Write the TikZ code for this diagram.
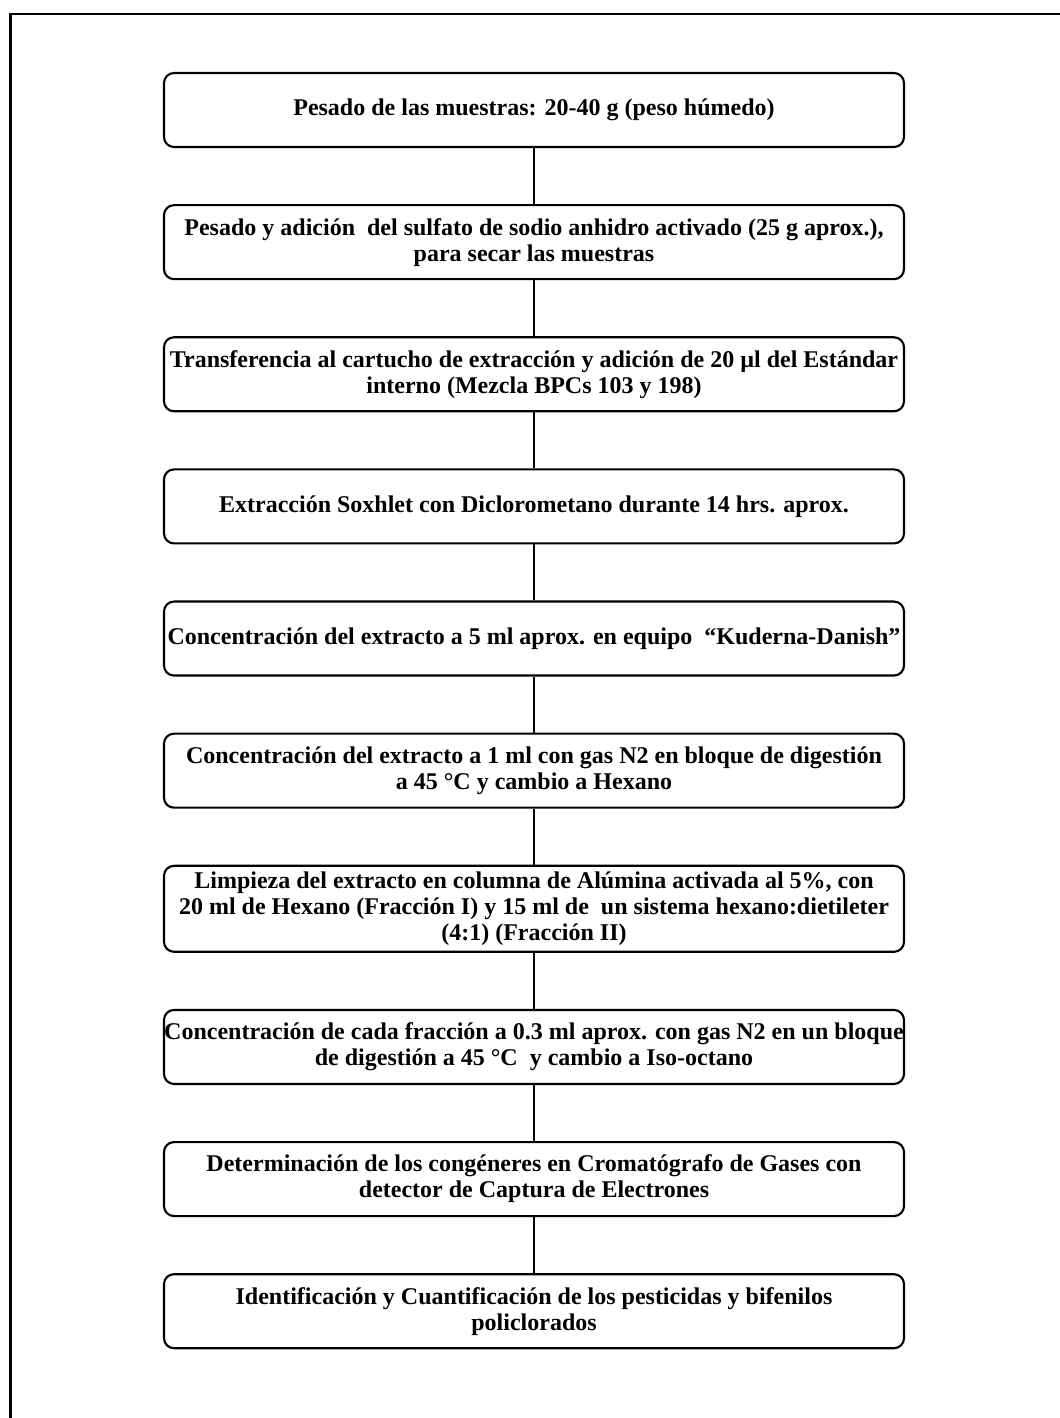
\documentclass[tikz,border=0pt]{standalone}
\usepackage{fontspec}
\setmainfont{Liberation Serif}
\usepackage{tikz}
\usetikzlibrary{positioning}

\begin{document}
\begin{tikzpicture}[
  node distance=42pt,
  box/.style={draw, line width=1.6pt, rounded corners=7.5pt, align=center, minimum width=555pt, minimum height=55.5pt, inner xsep=0pt, inner ysep=3pt, font=\bfseries\fontsize{18}{19.5}\selectfont},
  link/.style={line width=1pt},
  frame/.style={line width=1.8pt}
]
  \useasboundingbox (0,0) rectangle (795pt,-1063.5pt);
  \draw[frame] (8pt,-1063.5pt) -- (8pt,-10.5pt) -- (795pt,-10.5pt);

  \node[box] (pesado) at (400.5pt,-82.5pt) {Pesado de las muestras: 20-40 g (peso húmedo)};
  \node[box, below=of pesado] (secado) {Pesado y adición\ \ del sulfato de sodio anhidro activado (25 g aprox.),\\para secar las muestras};
  \node[box, below=of secado] (transf) {Transferencia al cartucho de extracción y adición de 20 µl del Estándar\\interno (Mezcla BPCs 103 y 198)};
  \node[box, below=of transf] (soxhlet) {Extracción Soxhlet con Diclorometano durante 14 hrs. aprox.};
  \node[box, below=of soxhlet] (kd) {Concentración del extracto a 5 ml aprox. en equipo\ \ “Kuderna-Danish”};
  \node[box, below=of kd] (nitro) {Concentración del extracto a 1 ml con gas N2 en bloque de digestión\\a 45 °C y cambio a Hexano};
  \node[box, below=of nitro, minimum height=64.5pt] (limpieza) {Limpieza del extracto en columna de Alúmina activada al 5\%, con\\20 ml de Hexano (Fracción I) y 15 ml de\ \ un sistema hexano:dietileter\\(4:1) (Fracción II)};
  \node[box, below=of limpieza] (isoct) {Concentración de cada fracción a 0.3 ml aprox. con gas N2 en un bloque\\de digestión a 45 °C\ \ y cambio a Iso-octano};
  \node[box, below=of isoct] (gc) {Determinación de los congéneres en Cromatógrafo de Gases con\\detector de Captura de Electrones};
  \node[box, below=of gc] (ident) {Identificación y Cuantificación de los pesticidas y bifenilos\\policlorados};

  \draw[link] (pesado) -- (secado);
  \draw[link] (secado) -- (transf);
  \draw[link] (transf) -- (soxhlet);
  \draw[link] (soxhlet) -- (kd);
  \draw[link] (kd) -- (nitro);
  \draw[link] (nitro) -- (limpieza);
  \draw[link] (limpieza) -- (isoct);
  \draw[link] (isoct) -- (gc);
  \draw[link] (gc) -- (ident);
\end{tikzpicture}
\end{document}
